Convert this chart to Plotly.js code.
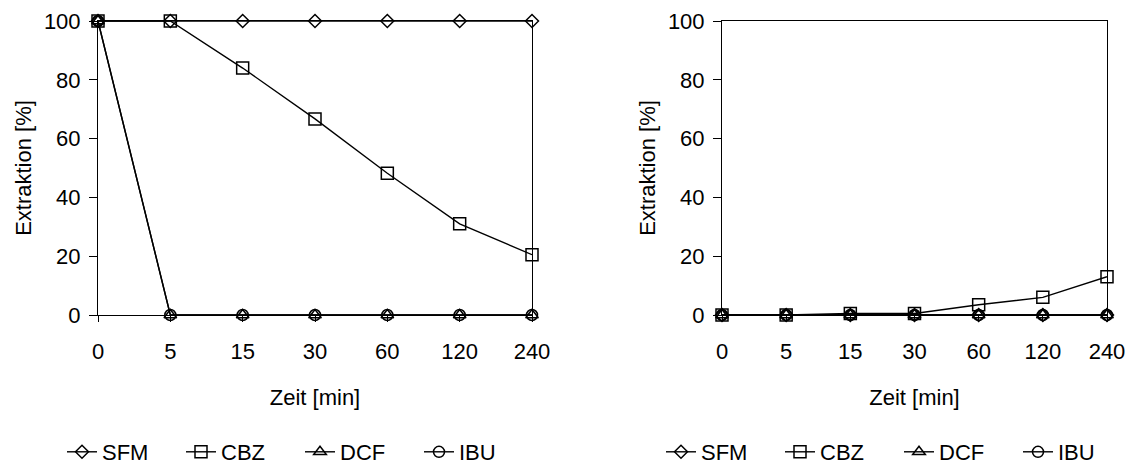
<!DOCTYPE html>
<html>
<head>
<meta charset="utf-8">
<script src="https://cdn.plot.ly/plotly-3.0.1.min.js"></script>
<style>
html,body{margin:0;padding:0;background:#fff;}
#chart{width:1132px;height:465px;}
</style>
</head>
<body>
<div id="chart"></div>
<script>
// Data
const zeitLabels = ["0", "5", "15", "30", "60", "120", "240"];
const seriesNames = ["SFM", "CBZ", "DCF", "IBU"];

// Left panel
const leftSFM = [100, 100, 100, 100, 100, 100, 100];
const leftCBZ = [100, 100, 84, 66.7, 48.2, 31, 20.5];
const leftDCF = [100, 0, 0, 0, 0, 0, 0];
const leftIBU = [100, 0, 0, 0, 0, 0, 0];

// Right panel
const rightSFM = [0, 0, 0, 0, 0, 0, 0];
const rightCBZ = [0, 0, 0.5, 0.5, 3.5, 6, 13];
const rightDCF = [0, 0, 0, 0, 0, 0, 0];
const rightIBU = [0, 0, 0, 0, 0, 0, 0];

const symbols = ["diamond-open", "square-open", "triangle-up-open", "circle-open"];
const sizes = [10, 12, 11, 11];

const FONT = "Liberation Sans, Arial, sans-serif";

function makeTrace(name, y, idx, xa, ya, legend) {
  return {
    x: zeitLabels, y: y, name: name,
    type: "scatter", mode: "lines+markers",
    xaxis: xa, yaxis: ya, legend: legend,
    line: {color: "#000", width: 1.4},
    marker: {symbol: symbols[idx], size: sizes[idx], color: "#000", line: {color: "#000", width: 1.5}},
    cliponaxis: false,
    hoverinfo: "x+y+name"
  };
}

const leftData = [leftSFM, leftCBZ, leftDCF, leftIBU];
const rightData = [rightSFM, rightCBZ, rightDCF, rightIBU];

const traces = [];
seriesNames.forEach((n, i) => traces.push(makeTrace(n, leftData[i], i, "x", "y", "legend")));
seriesNames.forEach((n, i) => traces.push(makeTrace(n, rightData[i], i, "x2", "y2", "legend2")));

const W = 1132, H = 465;
const yDom = [(H - 315) / H, (H - 21) / H];

function xAxis(dom, anchor) {
  return {
    domain: dom, anchor: anchor, type: "category",
    range: [0, 6], showgrid: false, zeroline: false,
    showline: true, linecolor: "#000", linewidth: 1, mirror: true,
    ticks: "outside", ticklen: 6, tickcolor: "#000", tickwidth: 1,
    tickfont: {family: FONT, size: 22, color: "#000"},
    ticklabelstandoff: 11,
    title: {text: "Zeit [min]", font: {family: FONT, size: 22, color: "#000"}, standoff: 26},
    fixedrange: true
  };
}
function yAxis(anchor) {
  return {
    domain: yDom, anchor: anchor, range: [0, 100],
    tickvals: [0, 20, 40, 60, 80, 100],
    showgrid: false, zeroline: false,
    showline: true, linecolor: "#000", linewidth: 1, mirror: true,
    ticks: "outside", ticklen: 8, tickcolor: "#000", tickwidth: 1,
    tickfont: {family: FONT, size: 22, color: "#000"},
    ticklabelstandoff: 4,
    title: {text: "Extraktion [%]", font: {family: FONT, size: 22, color: "#000"}, standoff: 6},
    fixedrange: true
  };
}

const layout = {
  width: W, height: H,
  margin: {l: 0, r: 0, t: 0, b: 0, pad: 0, autoexpand: false},
  paper_bgcolor: "#fff", plot_bgcolor: "#fff",
  font: {family: FONT, size: 22, color: "#000"},
  showlegend: true,
  xaxis: xAxis([98 / W, 532 / W], "y"),
  yaxis: yAxis("x"),
  xaxis2: xAxis([722 / W, 1107 / W], "y2"),
  yaxis2: yAxis("x2"),
  legend: {
    orientation: "h", x: 62 / W, xanchor: "left", y: 13 / H, yanchor: "middle",
    font: {family: FONT, size: 22, color: "#000"}, bgcolor: "rgba(0,0,0,0)",
    entrywidth: 74, entrywidthmode: "pixels", itemclick: false, itemdoubleclick: false
  },
  legend2: {
    orientation: "h", x: 661 / W, xanchor: "left", y: 13 / H, yanchor: "middle",
    font: {family: FONT, size: 22, color: "#000"}, bgcolor: "rgba(0,0,0,0)",
    entrywidth: 74, entrywidthmode: "pixels", itemclick: false, itemdoubleclick: false
  }
};

Plotly.newPlot("chart", traces, layout, {displayModeBar: false, staticPlot: true});
</script>
</body>
</html>
